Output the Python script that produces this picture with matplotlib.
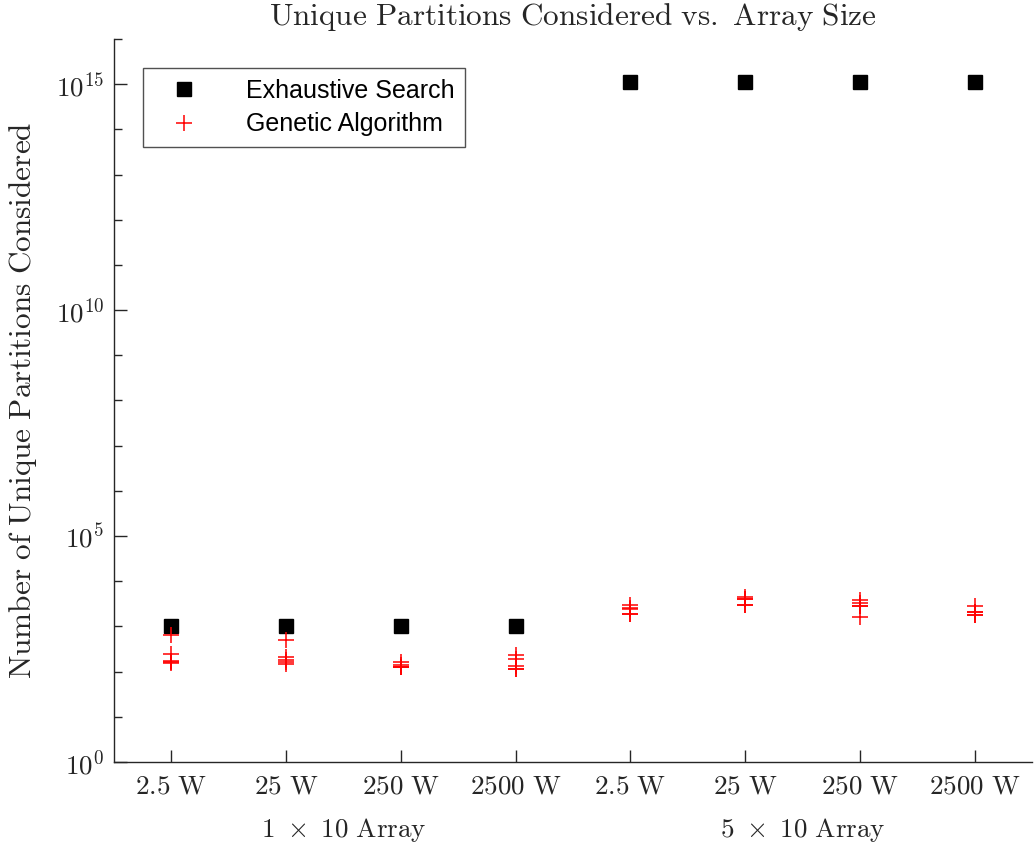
import numpy as np
import matplotlib
matplotlib.use("Agg")
import matplotlib.pyplot as plt
from matplotlib.ticker import FixedLocator, NullFormatter

plt.rcParams["mathtext.fontset"] = "cm"

# Categories: power level for each array layout
power_labels = ["2.5 W", "25 W", "250 W", "2500 W", "2.5 W", "25 W", "250 W", "2500 W"]
array_groups = ["1 \\times 10", "5 \\times 10"]

# Exhaustive search: every partition of the array
exhaustive = [1024, 1024, 1024, 1024,
              2.0 ** 50, 2.0 ** 50, 2.0 ** 50, 2.0 ** 50]

# Genetic algorithm: unique partitions visited in each independent run
ga_runs = [
    [631, 245, 174, 162, 158],
    [501, 209, 182, 166, 148],
    [166, 138, 129, 129, 129],
    [229, 195, 132, 112, 112],
    [2950, 2570, 2400, 1860, 1860],
    [4570, 4070, 4070, 2950, 2950],
    [3800, 3240, 2820, 2820, 1590],
    [2820, 2090, 2090, 1780, 1780],
]

fig = plt.figure(figsize=(10.34, 8.47), dpi=100)
ax = fig.add_axes([114 / 1034, 1 - 762 / 847, (1032 - 114) / 1034, (762 - 39) / 847])

x = np.arange(1, len(power_labels) + 1)
ax.plot(x, exhaustive, linestyle="none", marker="s", markersize=10,
        color="black", label="Exhaustive Search")
for i, runs in enumerate(ga_runs):
    ax.plot([x[i]] * len(runs), runs, linestyle="none", marker="+",
            markersize=12, markeredgewidth=1.1, color="red",
            label="Genetic Algorithm" if i == 0 else None)

ax.set_yscale("log")
ax.set_ylim(1, 1e16)
ax.set_xlim(0.5, len(power_labels) + 0.5)

major = [1e0, 1e5, 1e10, 1e15]
ax.yaxis.set_major_locator(FixedLocator(major))
ax.set_yticklabels([r"$10^{%d}$" % int(np.log10(v)) for v in major])
ax.yaxis.set_minor_locator(FixedLocator([10.0 ** k for k in range(0, 17) if k % 5]))
ax.yaxis.set_minor_formatter(NullFormatter())

ax.set_xticks(x)
ax.set_xticklabels([r"$\mathrm{%s}$" % lab.replace(" ", r"\ ") for lab in power_labels])

ax.tick_params(axis="both", which="major", direction="in", length=9, width=1,
               color="#262626", labelsize=19.5, labelcolor="#262626", pad=8)
ax.tick_params(axis="y", which="minor", direction="in", length=6, width=1,
               color="#262626")
ax.tick_params(axis="y", which="major", pad=7)

for side in ("top", "right"):
    ax.spines[side].set_visible(False)
for side in ("left", "bottom"):
    ax.spines[side].set_color("#262626")
    ax.spines[side].set_linewidth(1)

# Group labels under the power ticks
for gi, grp in enumerate(array_groups):
    cx = 2.5 + 4 * gi
    ax.text(cx, -0.074, r"$\mathrm{%s\ Array}$" % grp.replace(" ", r"\ "),
            transform=ax.get_xaxis_transform(), ha="center", va="top",
            fontsize=19.5, color="#262626")

ax.set_ylabel(r"$\mathrm{Number\ of\ Unique\ Partitions\ Considered}$",
              fontsize=22.5, color="#262626", labelpad=12)
ax.set_title(r"$\mathrm{Unique\ Partitions\ Considered\ vs.\ Array\ Size}$",
             fontsize=22.5, color="#262626", pad=10)

leg = ax.legend(loc="upper left", bbox_to_anchor=(29 / 918, 1 - 29 / 723),
                prop={"family": "Liberation Sans", "size": 18},
                frameon=True, fancybox=False, edgecolor="#262626",
                borderpad=0.42, handletextpad=1.3, labelspacing=0.4,
                borderaxespad=0, handlelength=2.4)
leg.get_frame().set_linewidth(1)

fig.savefig("out.png", dpi=100, facecolor="white")
